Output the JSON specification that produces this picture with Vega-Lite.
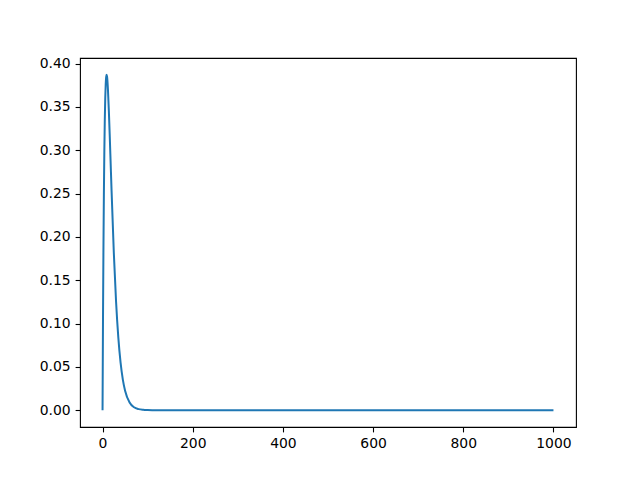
{
  "$schema": "https://vega.github.io/schema/vega-lite/v6.json",
  "width": 496,
  "height": 369,
  "autosize": "none",
  "padding": {"left": 80, "top": 58, "right": 64, "bottom": 53},
  "background": "white",
  "data": {
    "values": [
      {"x": 0, "y": 0.0},
      {"x": 1, "y": 0.1046},
      {"x": 2, "y": 0.1872},
      {"x": 3, "y": 0.2513},
      {"x": 4, "y": 0.2998},
      {"x": 5, "y": 0.3353},
      {"x": 6, "y": 0.3601},
      {"x": 7, "y": 0.3759},
      {"x": 8, "y": 0.3844},
      {"x": 9, "y": 0.387},
      {"x": 10, "y": 0.3848},
      {"x": 12, "y": 0.3697},
      {"x": 14, "y": 0.3454},
      {"x": 16, "y": 0.3161},
      {"x": 18, "y": 0.2847},
      {"x": 20, "y": 0.2534},
      {"x": 25, "y": 0.1817},
      {"x": 30, "y": 0.1251},
      {"x": 35, "y": 0.0837},
      {"x": 40, "y": 0.0549},
      {"x": 45, "y": 0.0354},
      {"x": 50, "y": 0.0226},
      {"x": 60, "y": 0.0089},
      {"x": 70, "y": 0.0034},
      {"x": 80, "y": 0.0013},
      {"x": 90, "y": 0.0005},
      {"x": 100, "y": 0.0002},
      {"x": 120, "y": 0.0},
      {"x": 200, "y": 0.0},
      {"x": 400, "y": 0.0},
      {"x": 600, "y": 0.0},
      {"x": 800, "y": 0.0},
      {"x": 1000, "y": 0.0}
    ]
  },
  "mark": {"type": "line", "color": "#1f77b4", "strokeWidth": 2, "clip": true, "interpolate": "monotone"},
  "encoding": {
    "x": {
      "field": "x",
      "type": "quantitative",
      "scale": {"domain": [-50, 1050], "nice": false, "zero": false},
      "axis": {"title": null, "values": [0, 200, 400, 600, 800, 1000], "format": "d"}
    },
    "y": {
      "field": "y",
      "type": "quantitative",
      "scale": {"domain": [-0.01935, 0.4064], "nice": false, "zero": false},
      "axis": {"title": null, "values": [0, 0.05, 0.1, 0.15, 0.2, 0.25, 0.3, 0.35, 0.4], "format": ".2f"}
    }
  },
  "config": {
    "font": "DejaVu Sans",
    "view": {"stroke": "black", "strokeWidth": 1.1},
    "axis": {
      "grid": false,
      "domain": false,
      "ticks": true,
      "tickSize": 4.9,
      "tickColor": "black",
      "tickWidth": 1.1,
      "labelColor": "black",
      "labelFontSize": 13.9,
      "labelPadding": 4.9,
      "labelFont": "DejaVu Sans"
    }
  }
}
